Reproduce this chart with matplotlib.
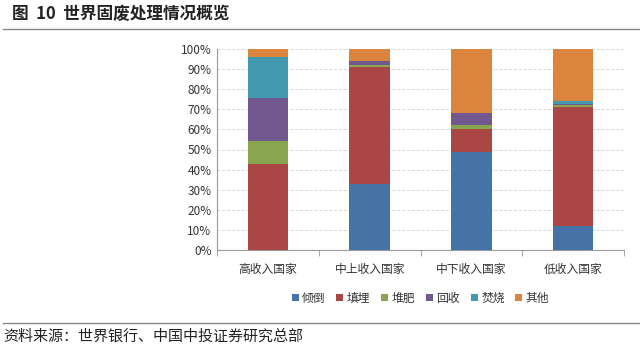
import numpy as np
import matplotlib
matplotlib.use('Agg')
import matplotlib.pyplot as plt
from matplotlib.ticker import PercentFormatter

plt.rcParams['font.family'] = ['Noto Sans CJK SC', 'DejaVu Sans']

categories = ['高收入国家', '中上收入国家', '中下收入国家', '低收入国家']
dumping = [0, 33, 49, 12]       # 倾倒
landfill = [43, 58, 11, 59]     # 填埋
compost = [11, 1, 2, 1]         # 堆肥
recycle = [21.5, 2, 6, 0.5]     # 回收
incinerate = [20.5, 0, 0, 1.5]  # 焚烧
other = [4, 6, 32, 26]          # 其他

series = [('倾倒', dumping, '#4572A7'), ('填埋', landfill, '#AA4643'),
          ('堆肥', compost, '#89A54E'), ('回收', recycle, '#71588F'),
          ('焚烧', incinerate, '#4198AF'), ('其他', other, '#DB843D')]

fig = plt.figure(figsize=(6.4, 3.51), dpi=100)
W, H = 640, 351
ax = fig.add_axes([217 / W, 1 - 250 / H, (624 - 217) / W, (250 - 49) / H])

x = np.arange(len(categories))
bottom = np.zeros(len(categories))
for name, vals, color in series:
    vals = np.array(vals, dtype=float)
    ax.bar(x, vals, 0.4, bottom=bottom, color=color, label=name, zorder=3)
    bottom += vals

ax.set_xlim(-0.5, len(categories) - 0.5)
ax.set_ylim(0, 100)
ax.set_yticks(np.arange(0, 101, 10))
ax.yaxis.set_major_formatter(PercentFormatter(decimals=0))
ax.set_xticks(x)
ax.set_xticklabels(categories)
ax.set_xticks(np.arange(-0.5, len(categories), 1), minor=True)
ax.tick_params(axis='x', which='major', length=0, pad=9, labelsize=8.5, colors='#333333')
ax.tick_params(axis='x', which='minor', length=4, color='#999999', direction='out')
ax.tick_params(axis='y', length=0, labelsize=8.5, colors='#333333', pad=4)
ax.grid(axis='y', color='#d6d6d6', linestyle=(0, (3, 2)), linewidth=0.7, zorder=0)
for s in ['top', 'right']:
    ax.spines[s].set_visible(False)
for s in ['left', 'bottom']:
    ax.spines[s].set_color('#999999')
    ax.spines[s].set_linewidth(0.8)

ax.legend(loc='center', bbox_to_anchor=(0.5, -0.24), ncol=6, frameon=False,
          fontsize=8.5, handlelength=0.6, handleheight=0.6, handletextpad=0.3,
          columnspacing=0.9, labelcolor='#333333')

fig.text(12 / W, 1 - 14 / H, '图  10  世界固废处理情况概览', fontsize=12, fontweight='bold',
         va='center', ha='left', color='#222222')
fig.add_artist(plt.Line2D([3 / W, 1], [1 - 29 / H] * 2, color='#888888', linewidth=1))
fig.add_artist(plt.Line2D([3 / W, 1], [1 - 323 / H] * 2, color='#888888', linewidth=1))
fig.text(3 / W, 1 - 336 / H, '资料来源：世界银行、中国中投证券研究总部', fontsize=10.8,
         va='center', ha='left', color='#222222')

fig.savefig('out.png', dpi=100)
